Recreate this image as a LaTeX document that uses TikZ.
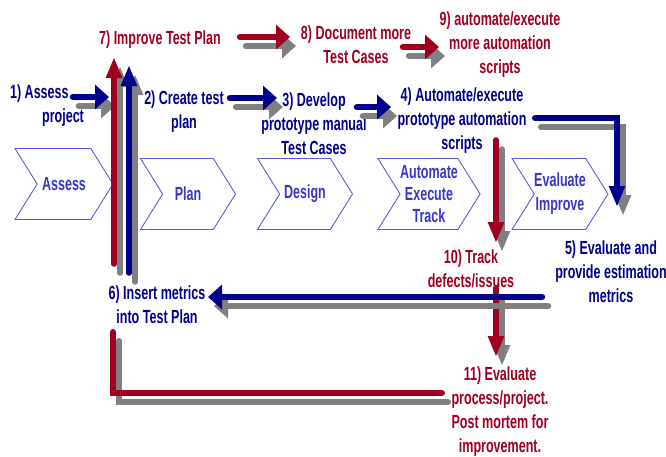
\documentclass[tikz,border=0pt]{standalone}
\usepackage{fontspec}
\newfontfamily\narrowbf{Liberation Sans}[FakeStretch=0.66]
\usetikzlibrary{arrows.meta,shapes.symbols}
\definecolor{tsblue}{RGB}{0,0,140}
\definecolor{tsred}{RGB}{160,0,32}
\definecolor{tsgray}{RGB}{128,128,128}
\definecolor{tschev}{RGB}{90,90,225}
\definecolor{tschevtxt}{RGB}{55,55,200}

\begin{document}
\begin{tikzpicture}[x=1pt,y=-1pt,
  font=\narrowbf\bfseries\fontsize{19}{24}\selectfont,
  lbl/.style={align=center,inner sep=0pt},
  chev/.style={signal,signal to=east,signal from=west,signal pointer angle=116,
    draw=tschev,line width=0.9pt,minimum width=95pt,minimum height=71pt,
    text=tschevtxt,align=center,inner sep=0pt},
  harr/.style={line width=6.5pt,line cap=round,-{Triangle[length=14pt,width=24pt]}},
  varr/.style={line width=5.5pt,line cap=round,-{Triangle[length=21pt,width=15pt]}},
  elbow/.style={line width=6pt,line cap=round},
  drop/.style={tsgray,transform canvas={xshift=6pt,yshift=-9pt}}]
  \useasboundingbox (0,0) rectangle (666,456);

  % phases
  \node[chev,minimum width=98pt] (assess) at (64,184) {Assess};
  \node[chev] (plan) at (188,194) {Plan};
  \node[chev] (design) at (305,194) {Design};
  \node[chev] (autom) at (429,194) {Automate\\[-2pt]Execute\\[-2pt]Track};
  \node[chev,minimum width=93pt] (evalu) at (560,194) {Evaluate\\Improve};

  % step labels
  \node[lbl,text=tsblue,align=left] (s1) at (47,106) {1) Assess\\\hspace*{32pt}project};
  \node[lbl,text=tsblue] (s2) at (184,112) {2) Create test\\plan};
  \node[lbl,text=tsblue] (s3) at (314,124) {3) Develop\\prototype manual\\Test Cases};
  \node[lbl,text=tsblue] (s4) at (462,121) {4) Automate/execute\\prototype automation\\scripts};
  \node[lbl,text=tsblue] (s5) at (611,272) {5) Evaluate and\\provide estimation\\metrics};
  \node[lbl,text=tsblue] (s6) at (157,305) {6) Insert metrics\\into Test Plan};
  \node[lbl,text=tsred] (s7) at (160,40) {7) Improve Test Plan};
  \node[lbl,text=tsred] (s8) at (356,45) {8) Document more\\Test Cases};
  \node[lbl,text=tsred] (s9) at (500,45) {9) automate/execute\\more automation\\scripts};
  \node[lbl,text=tsred] (s10) at (471,269) {10) Track\\defects/issues};
  \node[lbl,text=tsred] (s11) at (500,412) {11) Evaluate\\process/project.\\Post mortem for\\improvement.};

  % arrow ends
  \coordinate (h1a) at (73,97);   \coordinate (h1b) at (109,97);
  \coordinate (h2a) at (230,98);  \coordinate (h2b) at (277,98);
  \coordinate (h3a) at (357,107); \coordinate (h3b) at (391,107);
  \coordinate (h7a) at (240,37);  \coordinate (h7b) at (290,37);
  \coordinate (h8a) at (403,47);  \coordinate (h8b) at (439,47);
  \coordinate (b6a) at (542,297); \coordinate (b6b) at (208,297);
  \coordinate (u7a) at (114,264); \coordinate (u7b) at (114,57);
  \coordinate (u2a) at (129,273); \coordinate (u2b) at (129,65);
  \coordinate (d10a) at (496,140); \coordinate (d10b) at (496,243);
  \coordinate (d11a) at (496,288); \coordinate (d11b) at (496,357);
  \coordinate (e5a) at (535,118); \coordinate (e5c) at (617,118); \coordinate (e5b) at (617,207);
  \coordinate (e11a) at (113,332); \coordinate (e11c) at (113,393); \coordinate (e11b) at (442,393);

  % arrows with shadows
  \foreach \a/\b/\c in {h1a/h1b/tsblue,h2a/h2b/tsblue,h3a/h3b/tsblue,
                        h7a/h7b/tsred,h8a/h8b/tsred} {
    \draw[harr,drop] (\a) -- (\b);
    \draw[harr,\c] (\a) -- (\b);
  }
  \foreach \a/\b/\c in {u7a/u7b/tsred,u2a/u2b/tsblue,d10a/d10b/tsred,d11a/d11b/tsred} {
    \draw[varr,drop] (\a) -- (\b);
    \draw[varr,\c] (\a) -- (\b);
  }
  \draw[harr,drop] (b6a) -- (b6b);
  \draw[harr,tsblue] (b6a) -- (b6b);
  \draw[elbow,drop,-{Triangle[length=21pt,width=15pt]}] (e5a) -- (e5c) -- (e5b);
  \draw[elbow,tsblue,-{Triangle[length=21pt,width=15pt]}] (e5a) -- (e5c) -- (e5b);
  \draw[elbow,drop] (e11a) -- (e11c) -- (e11b);
  \draw[elbow,tsred] (e11a) -- (e11c) -- (e11b);
\end{tikzpicture}
\end{document}
